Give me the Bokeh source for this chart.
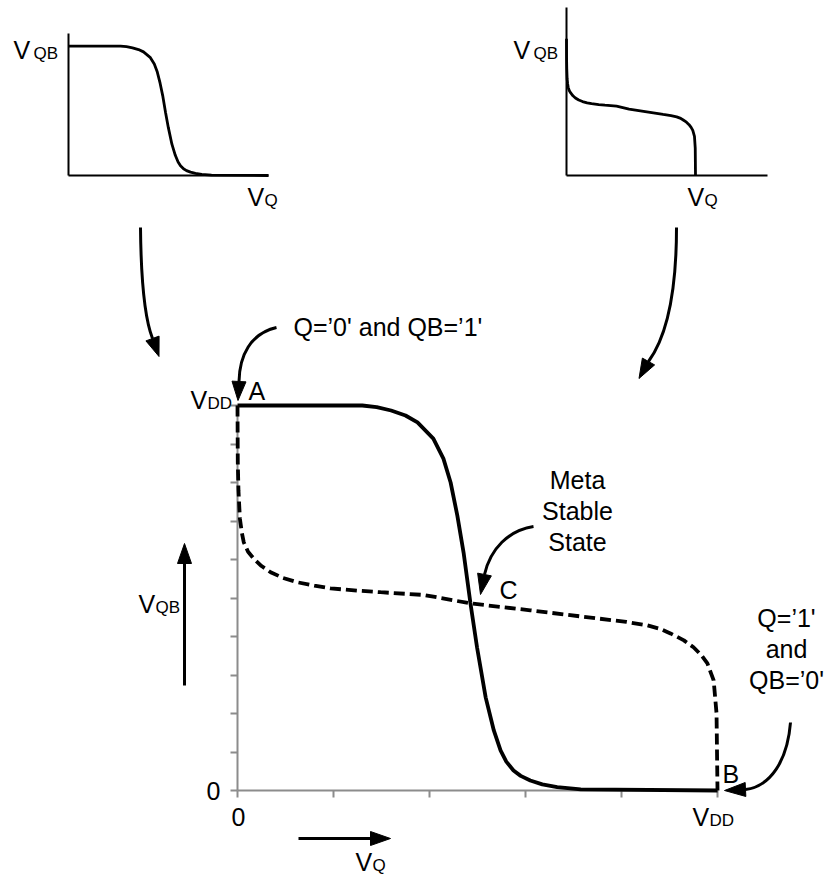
import math

from bokeh.plotting import figure
from bokeh.models import Range1d, FixedTicker
from bokeh.core.properties import value
from bokeh.embed import file_html
from bokeh.resources import INLINE

# ---- latch transfer curves, voltages normalised to VDD ----
# inverter 1: VQB as a function of VQ (solid curve, left sketch)
inv1_vq = [0.0, 0.26, 0.29, 0.32, 0.35, 0.375, 0.408, 0.429, 0.444, 0.458,
           0.471, 0.485, 0.499, 0.517, 0.534, 0.548, 0.56, 0.575, 0.59, 0.61,
           0.635, 0.666, 0.715, 1.0]
inv1_vqb = [1.0, 1.0, 0.996, 0.987, 0.974, 0.956, 0.914, 0.862, 0.80, 0.714,
            0.618, 0.489, 0.372, 0.242, 0.156, 0.104, 0.075, 0.052, 0.038, 0.026,
            0.016, 0.009, 0.003, 0.0]

# inverter 2 drawn on the same axes (dashed curve, right sketch)
inv2_vq = [0.0, 0.0006, 0.002, 0.005, 0.009, 0.013, 0.022, 0.034, 0.05, 0.069,
           0.095, 0.124, 0.16, 0.194, 0.25, 0.298, 0.388, 0.485, 0.61, 0.749,
           0.81, 0.854, 0.88, 0.902, 0.93, 0.95, 0.966, 0.979, 0.992, 0.998, 1.0]
inv2_vqb = [1.0, 0.853, 0.78, 0.706, 0.67, 0.645, 0.62, 0.602, 0.583, 0.567,
            0.552, 0.541, 0.532, 0.525, 0.519, 0.515, 0.508, 0.486, 0.468, 0.447,
            0.438, 0.429, 0.42, 0.408, 0.39, 0.372, 0.352, 0.330, 0.286, 0.2, 0.0]

x_ticks = [0.0, 0.2, 0.4, 0.6, 0.8, 1.0]
y_ticks = [0.0, 0.1, 0.2, 0.3, 0.4, 0.5, 0.6, 0.7, 0.8, 0.9, 1.0]

# ---- page geometry (pixels) ----
W, H = 827, 882
FONT = "Liberation Sans"
INK = "black"
AXIS_GREY = "#8c8c8c"
TEXT_DY = -9          # baseline correction for the svg text renderer

MAIN = dict(x0=237, sx=480, y0=790, sy=385)          # origin and VDD scale of main plot
LEFT = dict(x0=68, sx=200, y0=175, sy=129.3, xend=268, ytop=33)
RIGHT = dict(x0=566, sx=129, y0=175, sy=136.7, xend=767, ytop=7)


def ranges(b):
    xr = Range1d(-b["x0"] / b["sx"], (W - b["x0"]) / b["sx"])
    yr = Range1d((b["y0"] - H) / b["sy"], b["y0"] / b["sy"])
    return xr, yr


def at(px, py):
    """Page pixel position -> main-plot data position."""
    return (px - MAIN["x0"]) / MAIN["sx"], (MAIN["y0"] - py) / MAIN["sy"]


mx, my = ranges(MAIN)
p = figure(width=W, height=H, x_range=mx, y_range=my,
           output_backend="svg", toolbar_location=None, min_border=0)
p.outline_line_color = None
p.grid.visible = False
p.background_fill_color = "white"
p.border_fill_color = "white"

lx, ly = ranges(LEFT)
rx, ry = ranges(RIGHT)
p.extra_x_ranges = {"left": lx, "right": rx}
p.extra_y_ranges = {"left": ly, "right": ry}

# ---- main axes ----
for ax, ticks in ((p.xaxis[0], x_ticks), (p.yaxis[0], y_ticks)):
    ax.fixed_location = 0
    ax.bounds = (0, 1)
    ax.level = "underlay"
    ax.ticker = FixedTicker(ticks=ticks)
    ax.axis_line_color = AXIS_GREY
    ax.axis_line_width = 2
    ax.major_tick_line_color = AXIS_GREY
    ax.major_tick_line_width = 2
    ax.major_tick_out = 7
    ax.major_tick_in = 0
    ax.minor_tick_line_color = None
    ax.major_label_text_color = None
    ax.major_label_text_font_size = "0px"

# ---- main curves ----
p.line(inv2_vq, inv2_vqb, line_color=INK, line_width=3.8, line_dash="11 5")
p.line(inv1_vq, inv1_vqb, line_color=INK, line_width=3.8)

# ---- small sketches ----
for name, b, xs, ys in (("left", LEFT, inv1_vq, inv1_vqb),
                        ("right", RIGHT, inv2_vq, inv2_vqb)):
    xe = (b["xend"] - b["x0"]) / b["sx"]
    yt = (b["y0"] - b["ytop"]) / b["sy"]
    p.segment(x0=[0, 0], y0=[0, 0], x1=[0, xe], y1=[yt, 0],
              x_range_name=name, y_range_name=name,
              line_color=INK, line_width=2)
    p.line(xs, ys, x_range_name=name, y_range_name=name,
           line_color=INK, line_width=2.8)


# ---- text ----
def label(px, py, txt, size=25, align="left"):
    x, y = at(px, py + TEXT_DY)
    p.text(x=[x], y=[y], text=[txt], text_font=value(FONT),
           text_font_size=f"{size}px", text_align=align,
           text_baseline="alphabetic", text_color=INK)


def sub_label(px, py, main, sub, sub_dx=17, sub_dy=4):
    label(px, py, main)
    label(px + sub_dx, py + sub_dy, sub, size=17)


sub_label(13, 58, "V", "QB", sub_dx=20)
sub_label(247, 205, "V", "Q")
sub_label(513, 58, "V", "QB", sub_dx=20)
sub_label(687, 205, "V", "Q")
sub_label(190, 408, "V", "DD")
sub_label(692, 825, "V", "DD")
sub_label(138, 612, "V", "QB")
sub_label(355, 870, "V", "Q")

label(213, 799, "0", align="center")
label(238, 825, "0", align="center")
label(248, 399, "A")
label(722, 782, "B")
label(499, 598, "C")
label(293, 335, "Q=\u20190' and QB=\u20191'")
for i, line in enumerate(["Meta", "Stable", "State"]):
    label(577, 488 + 31 * i, line, align="center")
for i, line in enumerate(["Q=\u20191'", "and", "QB=\u20190'"]):
    label(786, 626 + 31 * i, line, align="center")


# ---- arrows ----
def head(base, tip, half=7):
    """Filled triangular arrow head from the base centre to the tip (pixels)."""
    (bx, by), (tx, ty) = base, tip
    d = math.hypot(tx - bx, ty - by)
    nx, ny = -(ty - by) / d, (tx - bx) / d
    pts = [(tx, ty), (bx + half * nx, by + half * ny), (bx - half * nx, by - half * ny)]
    xs, ys = zip(*(at(*q) for q in pts))
    p.patch(list(xs), list(ys), fill_color=INK, line_color=INK, line_width=1)


def straight_arrow(start, tip, length=20):
    (sx, sy), (tx, ty) = start, tip
    d = math.hypot(tx - sx, ty - sy)
    base = (tx - length * (tx - sx) / d, ty - length * (ty - sy) / d)
    a, b = at(*start), at(*base)
    p.line([a[0], b[0]], [a[1], b[1]], line_color=INK, line_width=3)
    head(base, tip)


def curved_arrow(p0, c0, c1, p1, tip):
    a, b, c, d = at(*p0), at(*c0), at(*c1), at(*p1)
    p.bezier(x0=[a[0]], y0=[a[1]], x1=[d[0]], y1=[d[1]],
             cx0=[b[0]], cy0=[b[1]], cx1=[c[0]], cy1=[c[1]],
             line_color=INK, line_width=3)
    head(p1, tip)


curved_arrow((140, 227), (140.5, 280), (145, 320), (152, 338), (158.5, 356))
curved_arrow((676, 227), (676, 290), (667, 335), (648, 361), (638.5, 378))
curved_arrow((276, 327), (250, 333), (239, 355), (238.5, 381), (237.5, 400))
curved_arrow((533, 526), (508, 530), (490, 548), (484, 574), (480, 594))
curved_arrow((790, 722), (787, 760), (770, 786), (745, 789), (724, 790))

straight_arrow((184, 685), (184, 543))
straight_arrow((298, 838), (390, 838))

open("out.html", "w").write(file_html(p, INLINE))
